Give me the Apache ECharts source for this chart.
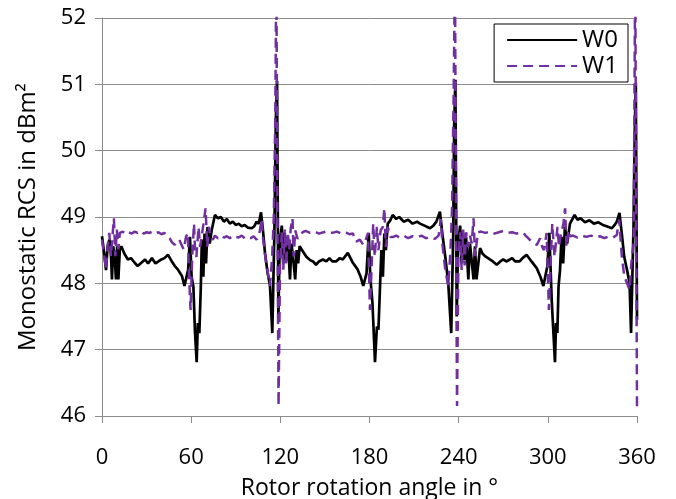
<!DOCTYPE html>
<html>
<head>
<meta charset="utf-8">
<title>Monostatic RCS</title>
<script src="https://cdn.jsdelivr.net/npm/echarts@6/dist/echarts.min.js"></script>
<style>
    html, body { margin: 0; padding: 0; background: #fff; }
    #rcs { width: 676px; height: 499px; }
</style>
</head>
<body>
<div id="rcs"></div>
<script>
// 数据 W0 (实线)
var w0Angle = [
    0, 1.5, 2.7, 3.8, 5, 6, 6.7, 7.5, 8.5, 9.4, 10.2, 11, 12, 13, 15, 17.4, 19.5, 22, 24, 26.5,
    29, 31, 33.6, 36, 38, 40, 42, 44.4, 47, 49, 51, 53.8, 55.5, 57, 58, 59.2, 60.3, 61.5, 62.5, 63.7,
    64.5, 65.5, 66.5, 67.2, 68.2, 69, 70, 71, 72.5, 73.8, 76, 78, 80, 82, 84, 86, 88, 90, 92, 94,
    96, 98, 100.7, 102.5, 104, 105.5, 107, 108.3, 109.7, 111.5, 113, 114.6, 116, 117, 117.8, 118.7, 119.6, 121,
    122, 123, 124, 125, 126.5, 127.5, 128.5, 130, 131, 132, 133, 135.2, 137.5, 140, 142, 144, 146, 148.6,
    151, 153, 155, 157.5, 160, 162, 165.4, 168.8, 172, 174, 175.8, 178, 179.5, 180.5, 182, 183.7, 185, 186,
    187, 188, 189, 190, 191, 192.3, 194, 195.6, 198, 200, 203, 206, 209, 212, 214, 217, 220.7, 223,
    225, 227.4, 229, 231, 233, 235, 236.3, 237, 237.8, 238.7, 239.6, 241,
    242, 243, 244, 245, 246.5, 247.6, 248.5, 250, 251, 252, 254.4, 256, 257.7, 261, 263, 265.6, 268, 270,
    272, 274.5, 276, 278, 281, 283, 285.7, 289, 292.5, 295, 297, 299.7, 301, 302.6, 304.8, 305.5, 306.4, 307.2,
    308.2, 309.2, 310.3, 311.5, 313, 314.9, 318, 320, 322, 325, 328, 331, 334, 337, 339.6, 343, 345, 346.4,
    348.2, 350, 351.4, 353.3, 355, 356, 357.7, 358.5, 359.2, 360
];
var w0Value = [
    48.71, 48.45, 48.2, 48.56, 48.66, 48.45, 48.06, 48.56, 48.41, 48.06, 48.56, 48.06, 48.51, 48.56, 48.45, 48.36, 48.38, 48.31, 48.26, 48.31,
    48.36, 48.3, 48.38, 48.3, 48.33, 48.36, 48.38, 48.43, 48.33, 48.26, 48.21, 48.11, 47.96, 48.11, 48.21, 48.7, 48.1, 47.95, 47.3, 46.81,
    47.4, 47.25, 47.95, 48.66, 48.1, 48.75, 48.3, 48.85, 48.6, 48.8, 49.03, 48.98, 49.0, 48.93, 48.97, 48.9, 48.93, 48.88, 48.9, 48.86,
    48.88, 48.84, 48.83, 48.86, 48.93, 48.9, 49.07, 48.8, 48.45, 48.15, 47.98, 47.25, 48.77, 50.5, 51.05, 47.5, 48.6, 48.87,
    48.3, 48.76, 48.35, 48.7, 48.06, 48.6, 48.4, 48.06, 48.5, 48.3, 48.56, 48.48, 48.4, 48.35, 48.33, 48.28, 48.33, 48.36,
    48.33, 48.38, 48.33, 48.33, 48.38, 48.36, 48.46, 48.31, 48.21, 48.1, 47.96, 48.15, 48.76, 48.1, 47.7, 46.81, 47.35, 47.3,
    47.9, 48.5, 48.1, 48.75, 48.5, 48.9, 48.95, 49.03, 48.97, 49.0, 48.93, 48.96, 48.9, 48.93, 48.9, 48.87, 48.83, 48.87,
    48.93, 49.08, 48.75, 48.4, 48.0, 47.25, 48.7, 50.4, 51.07, 47.5, 48.6, 48.87,
    48.3, 48.76, 48.35, 48.7, 48.06, 48.6, 48.4, 48.06, 48.56, 48.06, 48.53, 48.45, 48.41, 48.36, 48.33, 48.28, 48.33, 48.36,
    48.33, 48.36, 48.38, 48.33, 48.33, 48.38, 48.43, 48.33, 48.23, 48.1, 47.96, 48.26, 48.76, 47.75, 46.81, 47.4, 47.25, 47.95,
    48.2, 48.7, 48.3, 48.85, 48.6, 48.9, 49.03, 48.96, 48.98, 48.92, 48.95, 48.9, 48.92, 48.88, 48.86, 48.83, 48.88, 48.93,
    49.06, 48.7, 48.4, 48.2, 48.0, 47.25, 48.9, 50.3, 51.02, 47.45
];

// 数据 W1 (虚线)
var w1Angle = [
    0, 1.6, 2.7, 3.8, 4.9, 6, 7, 8, 9, 10, 11, 12, 14, 16, 18, 20, 22, 24, 26, 28,
    30, 32, 34, 36, 38, 40, 42, 44, 45.5, 47, 48.9, 50.5, 52, 53.5, 55, 56.5, 57.8, 58.5, 59.6, 60.7,
    61.9, 62.7, 63.5, 65, 66, 67, 68.3, 69.7, 70.8, 72, 73, 74.6, 76, 78, 80, 82, 84, 86, 88, 90,
    92, 94, 96, 98, 100, 102, 104, 105.5, 107.5, 108.4, 110.5, 113, 114.5, 115.6, 116.6, 117.3, 118, 118.8, 119.8, 121,
    122, 123, 124, 125, 126, 127, 128.2, 129, 130, 131.6, 133, 135, 137, 140, 143, 146, 149, 152, 155, 158,
    161, 164, 166.5, 168.8, 171, 173.5, 175.8, 177.5, 179, 180.3, 181.5, 182.5, 183.5, 185, 186, 187.5, 189, 190, 191, 192.3,
    194, 196, 198, 200, 203, 206, 209, 212, 215, 218, 221, 224, 226.5, 228, 229, 231, 233, 234.5, 235.5, 236.6,
    237.5, 238.2, 238.9, 239.8, 241,
    242, 243, 244, 245, 246.5, 247.6, 248.8, 250, 251, 253, 255, 258, 261, 264, 267, 270, 273, 276, 279, 281.5,
    283.6, 285, 286.8, 288.5, 290, 292.6, 294.8, 296.2, 297.4, 299.2, 300.7, 302, 303, 304.5, 305.6, 306.5, 307.5, 308.5, 310.5, 311.6,
    312.5, 314, 315, 317, 320, 323, 326, 329, 332, 335, 338, 341, 344, 346.4, 348, 349.8, 351.5, 353.3, 355, 356.2,
    357.7, 358.8, 360
];
var w1Value = [
    48.66, 48.4, 48.21, 48.56, 48.76, 48.41, 48.7, 48.98, 48.41, 48.81, 48.51, 48.76, 48.78, 48.74, 48.77, 48.75, 48.78, 48.76, 48.79, 48.75,
    48.77, 48.76, 48.78, 48.75, 48.77, 48.74, 48.76, 48.72, 48.68, 48.62, 48.58, 48.63, 48.66, 48.58, 48.51, 48.7, 48.76, 48.15, 47.6, 48.4,
    48.9, 48.45, 48.4, 48.85, 48.55, 48.7, 48.9, 49.13, 48.55, 48.85, 48.7, 48.66, 48.72, 48.68, 48.72, 48.69, 48.71, 48.68, 48.72, 48.7,
    48.69, 48.72, 48.68, 48.7, 48.68, 48.71, 48.66, 48.7, 48.97, 48.67, 48.3, 47.96, 48.4, 49.0, 50.5, 52.8, 49.3, 46.15, 48.3, 48.77,
    48.2, 48.81, 48.27, 48.77, 48.5, 48.83, 48.98, 48.4, 48.8, 48.67, 48.72, 48.77, 48.79, 48.76, 48.78, 48.75, 48.77, 48.79, 48.76, 48.78,
    48.75, 48.77, 48.74, 48.75, 48.63, 48.66, 48.58, 48.66, 48.76, 47.6, 48.3, 48.9, 48.4, 48.85, 48.5, 48.8, 48.85, 49.13, 48.55, 48.85,
    48.7, 48.7, 48.72, 48.69, 48.72, 48.68, 48.71, 48.69, 48.72, 48.68, 48.7, 48.67, 48.72, 48.97, 48.6, 48.2, 47.96, 48.5, 49.1, 50.8,
    52.8, 49.0, 46.15, 48.4, 48.77,
    48.2, 48.81, 48.27, 48.77, 48.55, 48.72, 48.6, 48.98, 48.41, 48.77, 48.78, 48.76, 48.78, 48.75, 48.77, 48.79, 48.76, 48.77, 48.75, 48.77,
    48.76, 48.72, 48.68, 48.64, 48.61, 48.58, 48.68, 48.55, 48.5, 48.76, 47.6, 48.4, 48.9, 48.4, 48.4, 48.85, 48.55, 48.7, 48.9, 49.13,
    48.55, 48.8, 48.71, 48.72, 48.69, 48.72, 48.7, 48.72, 48.69, 48.71, 48.68, 48.71, 48.69, 48.73, 48.96, 48.4, 48.1, 48.0, 47.9, 48.3,
    48.6, 52.8, 46.1
];

// 坐标轴刻度
var xTicks = { min: 0, max: 360, step: 60 };
var yTicks = { min: 46, max: 52, step: 1 };

// 拼成 [x, y]
function pairs(xs, ys) {
    var out = [];
    for (var i = 0; i < xs.length; i++) {
        out.push([xs[i], ys[i]]);
    }
    return out;
}

var rcsChart = echarts.init(document.getElementById('rcs'));

var fontName = '"Open Sans", sans-serif';
var gridGray = '#8c8c8c';

rcsChart.setOption({
    animation: false,
    backgroundColor: '#fff',
    textStyle: { fontFamily: fontName },
    // 固定绘图区位置，不让标签挤压
    grid: { left: 102, right: 39, top: 18, bottom: 83, outerBoundsMode: 'none' },
    legend: {
        orient: 'vertical',
        right: 48,
        top: 24,
        padding: [4, 10, 4, 12],
        itemGap: 2,
        itemWidth: 70,
        itemHeight: 4,
        // 图例里不画圆点
        itemStyle: { opacity: 0 },
        backgroundColor: '#fff',
        borderColor: '#000',
        borderWidth: 1,
        borderRadius: 0,
        textStyle: { fontSize: 24, lineHeight: 24, color: '#000', fontFamily: fontName },
        data: ['W0', 'W1']
    },
    xAxis: {
        type: 'value',
        min: xTicks.min,
        max: xTicks.max,
        interval: xTicks.step,
        name: 'Rotor rotation angle in °',
        nameLocation: 'middle',
        nameGap: 61,
        nameTextStyle: { fontSize: 23, color: '#000' },
        axisLine: { show: true, lineStyle: { color: gridGray, width: 1 } },
        axisTick: { show: true, length: 7, lineStyle: { color: gridGray } },
        axisLabel: { fontSize: 22, color: '#000', margin: 31 },
        splitLine: { show: false }
    },
    yAxis: {
        type: 'value',
        min: yTicks.min,
        max: yTicks.max,
        interval: yTicks.step,
        name: 'Monostatic RCS in dBm²',
        nameLocation: 'middle',
        nameGap: 62,
        nameTextStyle: { fontSize: 24, color: '#000' },
        axisLine: { show: true, lineStyle: { color: gridGray, width: 1 } },
        axisTick: { show: true, length: 7, lineStyle: { color: gridGray } },
        axisLabel: { fontSize: 22, color: '#000', margin: 16 },
        splitLine: { show: true, lineStyle: { color: gridGray, width: 1 } }
    },
    series: [
        {
            name: 'W0',
            type: 'line',
            symbol: 'none',
            clip: true,
            data: pairs(w0Angle, w0Value),
            lineStyle: { color: '#000', width: 2.7 },
            itemStyle: { color: '#000' }
        },
        {
            name: 'W1',
            type: 'line',
            symbol: 'none',
            clip: true,
            data: pairs(w1Angle, w1Value),
            lineStyle: { color: '#7030a0', width: 2.5, type: [10, 6] },
            itemStyle: { color: '#7030a0' }
        }
    ]
});
</script>
</body>
</html>
